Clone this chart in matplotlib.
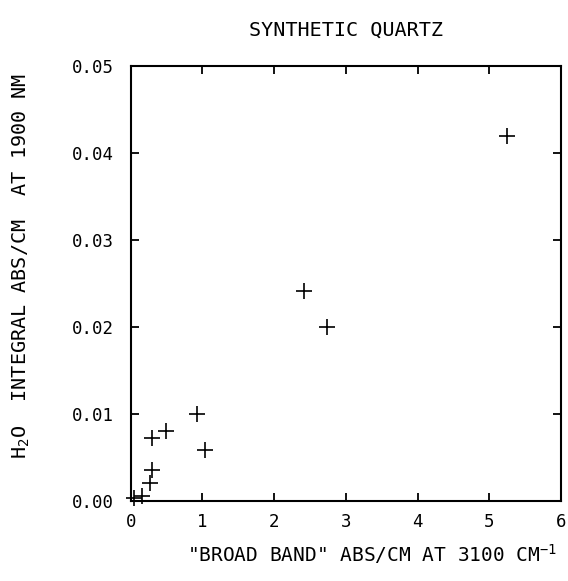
import matplotlib
matplotlib.use('Agg')
import matplotlib.pyplot as plt
from matplotlib.ticker import FormatStrFormatter

# Синтетический кварц: широкая полоса 3100 см-1 против интегрального поглощения 1900 нм
broad_band = [0.04, 0.16, 0.27, 0.30, 0.30, 0.49, 0.93, 1.03, 2.42, 2.74, 5.24]
integral_abs = [0.0003, 0.0006, 0.0021, 0.0036, 0.0072, 0.0080, 0.0100, 0.0059, 0.0241, 0.0200, 0.0420]

x_ticks = [0, 1, 2, 3, 4, 5, 6]
y_ticks = [0.00, 0.01, 0.02, 0.03, 0.04, 0.05]

plt.rcParams['font.family'] = ['DejaVu Sans Mono']
plt.rcParams['mathtext.fontset'] = 'custom'
plt.rcParams['mathtext.rm'] = 'DejaVu Sans Mono'

fig = plt.figure(figsize=(5.68, 5.81), dpi=100)
ax = fig.add_axes([0.230, 0.138, 0.758, 0.748])

ax.plot(broad_band, integral_abs, linestyle='none', marker='+',
        markersize=11, markeredgewidth=1.2, color='black', clip_on=False)

ax.set_xlim(0, 6)
ax.set_ylim(0, 0.05)
ax.set_xticks(x_ticks)
ax.set_yticks(y_ticks)
ax.yaxis.set_major_formatter(FormatStrFormatter('%.2f'))

ax.tick_params(direction='in', length=6, width=1.3, top=True, right=True,
               labelsize=12.5, color='black')
ax.tick_params(axis='y', pad=12)
ax.tick_params(axis='x', pad=9)
for s in ax.spines.values():
    s.set_linewidth(1.5)

ax.set_title('SYNTHETIC QUARTZ', fontsize=14.5, pad=22, x=0.50)
ax.set_xlabel('"BROAD BAND" ABS/CM AT 3100 CM$^{-1}$', fontsize=14)
ax.xaxis.set_label_coords(0.56, -0.095)
ax.set_ylabel('H$_2$O  INTEGRAL ABS/CM  AT 1900 NM', fontsize=14.5)
ax.yaxis.set_label_coords(-0.228, 0.54)

fig.savefig('out.png', dpi=100)
